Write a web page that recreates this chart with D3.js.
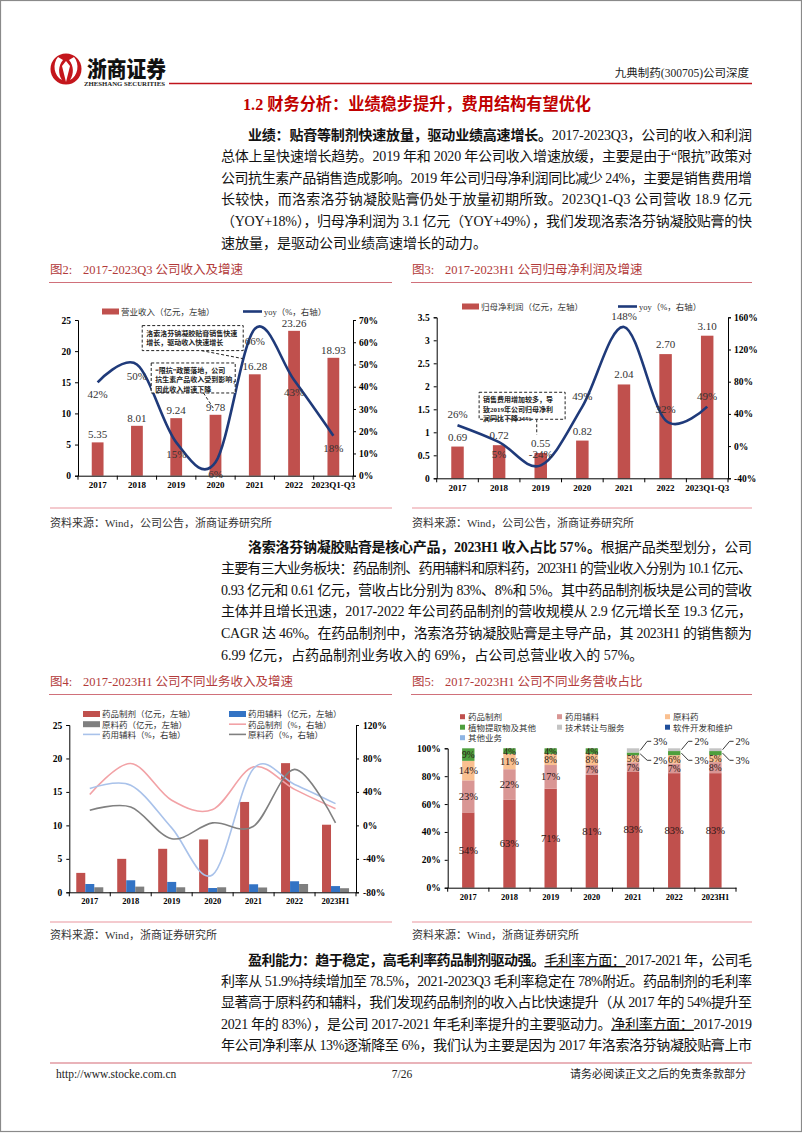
<!DOCTYPE html>
<html><head><meta charset="utf-8">
<script src="https://cdn.jsdelivr.net/npm/d3@7"></script>
<style>
body{margin:0;background:#fff;}
svg text{font-family:"Liberation Serif","Times New Roman","Noto Sans CJK SC",serif;}
</style></head><body>
<svg id="page" width="802" height="1133"></svg>
<script>
// ---------------- DATA ----------------
const years1 = ["2017","2018","2019","2020","2021","2022","2023Q1-Q3"];
const revenue = [5.35,8.01,9.24,9.78,16.28,23.26,18.93];
const revenueYoy = [42,50,15,6,66,43,18];
const revTicksL = [0,5,10,15,20,25];
const revTicksR = [0,10,20,30,40,50,60,70];

const netProfit = [0.69,0.72,0.55,0.82,2.04,2.70,3.10];
const netProfitYoy = [26,5,-24,49,148,32,49];
const npTicksL = [0,0.5,1,1.5,2,2.5,3,3.5];
const npTicksR = [-40,0,40,80,120,160];
const npYoySide = ["up","down","up","up","up","up","up"];

const years3 = ["2017","2018","2019","2020","2021","2022","2023H1"];
const segPharma = [2.9,5.0,6.5,7.9,13.5,19.3,10.1];
const segExcip = [1.24,1.8,1.55,0.64,1.2,1.65,0.93];
const segApi = [0.75,0.85,0.75,0.75,0.72,1.24,0.61];
const segPharmaYoy = [37,74,30,19,70,43,20];
const segExcipYoy = [44,48,-3,-59,68,49,26];
const segApiYoy = [18,22,-16,3,-1,67,3];
const segTicksL = [0,5,10,15,20,25];
const segTicksR = [-80,-40,0,40,80,120];

const shareKeys = ["药品制剂","药用辅料","原料药","植物提取物及其他","技术转让与服务","软件开发和维护","其他业务"];
const sharePharma = [54,63,71,81,83,83,83];
const shareExcip = [23,22,17,7,7,7,8];
const shareApi = [14,11,8,8,5,6,5];
const sharePlant = [9,4,4,4,2,3,3];
const shareTech = [0,0,0,0,3,2,2];
const shareSoft = [0,0,0,0,0,0,0];
const shareOther = [0,0,0,0,0,0,0];
const shareTicks = [0,0.2,0.4,0.6,0.8,1];

// ---------------- TEXT ----------------
const para1 = [
 "**业绩：贴膏等制剂快速放量，驱动业绩高速增长。**2017-2023Q3，公司的收入和利润",
 "总体上呈快速增长趋势。2019 年和 2020 年公司收入增速放缓，主要是由于“限抗”政策对",
 "公司抗生素产品销售造成影响。2019 年公司归母净利润同比减少 24%，主要是销售费用增",
 "长较快，而洛索洛芬钠凝胶贴膏仍处于放量初期所致。2023Q1-Q3 公司营收 18.9 亿元",
 "（YOY+18%），归母净利润为 3.1 亿元（YOY+49%），我们发现洛索洛芬钠凝胶贴膏的快",
 "速放量，是驱动公司业绩高速增长的动力。"
];
const para2 = [
 "**洛索洛芬钠凝胶贴膏是核心产品，2023H1 收入占比 57%。**根据产品类型划分，公司",
 "主要有三大业务板块：药品制剂、药用辅料和原料药，2023H1 的营业收入分别为 10.1 亿元、",
 "0.93 亿元和 0.61 亿元，营收占比分别为 83%、8%和 5%。其中药品制剂板块是公司的营收",
 "主体并且增长迅速，2017-2022 年公司药品制剂的营收规模从 2.9 亿元增长至 19.3 亿元，",
 "CAGR 达 46%。在药品制剂中，洛索洛芬钠凝胶贴膏是主导产品，其 2023H1 的销售额为",
 "6.99 亿元，占药品制剂业务收入的 69%，占公司总营业收入的 57%。"
];
const para3 = [
 "**盈利能力：趋于稳定，高毛利率药品制剂驱动强。**__毛利率方面：__2017-2021 年，公司毛",
 "利率从 51.9%持续增加至 78.5%，2021-2023Q3 毛利率稳定在 78%附近。药品制剂的毛利率",
 "显著高于原料药和辅料，我们发现药品制剂的收入占比快速提升（从 2017 年的 54%提升至",
 "2021 年的 83%），是公司 2017-2021 年毛利率提升的主要驱动力。__净利率方面：__2017-2019",
 "年公司净利率从 13%逐渐降至 6%，我们认为主要是因为 2017 年洛索洛芬钠凝胶贴膏上市"
];

// ---------------- DRAW ----------------
const svg = d3.select("#page");
const SERIF = '"Liberation Serif","Times New Roman","Noto Sans CJK SC",serif';
const CJK = '"Noto Sans CJK SC","Liberation Serif",sans-serif';
const RED = "#C0504D";
const NAVY = "#1F3A7A";

svg.append("rect").attr("x",0.5).attr("y",0.5).attr("width",801).attr("height",1131)
  .attr("fill","none").attr("stroke","#8a8a8a").attr("stroke-width",1.2);

// header
const logo = svg.append("g");
logo.append("circle").attr("cx",66).attr("cy",69).attr("r",15.5).attr("fill","#C4161C");
logo.append("path").attr("d","M58,57 C52,64 54,76 62,80 C58,74 58,66 63,60 Z M74,57 C80,64 78,76 70,80 C74,74 74,66 69,60 Z M62,66 L66,61 L70,66 L66,82 Z")
  .attr("fill","#fff");
svg.append("text").attr("x",87).attr("y",77).attr("font-family",CJK).attr("font-weight",900)
  .attr("font-size",22).attr("textLength",79).attr("lengthAdjust","spacingAndGlyphs").attr("fill","#111").text("浙商证券");
svg.append("text").attr("x",84).attr("y",85.5).attr("font-family",SERIF).attr("font-weight","bold")
  .attr("font-size",5.6).attr("textLength",81).attr("lengthAdjust","spacingAndGlyphs").attr("fill","#222").text("ZHESHANG SECURITIES");
svg.append("line").attr("x1",169).attr("x2",752).attr("y1",83.5).attr("y2",83.5).attr("stroke","#C0141C").attr("stroke-width",1.4);
svg.append("text").attr("x",749).attr("y",77).attr("text-anchor","end").attr("font-size",11.5).attr("fill","#222")
  .text("九典制药(300705)公司深度");

svg.append("text").attr("x",243).attr("y",110).attr("font-size",16.5).attr("font-weight","bold").attr("fill","#C00000")
  .attr("textLength",348).attr("lengthAdjust","spacingAndGlyphs").text("1.2 财务分析：业绩稳步提升，费用结构有望优化");

function richText(str, x, y, len){
  const t = svg.append("text").attr("x",x).attr("y",y).attr("font-size",14).attr("fill","#111");
  str.split(/(\*\*[^*]+\*\*|__[^_]+__)/).filter(s=>s).forEach(p=>{
    const ts = t.append("tspan");
    if(p.startsWith("**")) ts.text(p.slice(2,-2)).attr("font-weight","bold");
    else if(p.startsWith("__")) ts.text(p.slice(2,-2)).style("text-decoration","underline");
    else ts.text(p);
  });
  if(len) t.attr("textLength",len).attr("lengthAdjust","spacing");
}
function paragraph(lines, yBase, lh, lastFull){
  const L=221, R=752, IND=248;
  lines.forEach((s,i)=>{
    const x = i===0 ? IND : L;
    const full = i < lines.length-1 || lastFull;
    richText(s, x, yBase + i*lh, full ? R-x : null);
  });
}
paragraph(para1, 139.5, 21.6, false);
paragraph(para2, 551.5, 21.6, false);
paragraph(para3, 965, 21.2, true);

// figure titles, rules, sources
function figTitle(x, y, num, txt, x2){
  const t = svg.append("text").attr("x",x).attr("y",y).attr("font-size",12.5).attr("fill","#B23A3A");
  t.append("tspan").text("图"+num+":");
  t.append("tspan").attr("x",x+33).text(txt);
  svg.append("line").attr("x1",x-1).attr("x2",x2).attr("y1",y+8.5).attr("y2",y+8.5).attr("stroke","#D0707A").attr("stroke-width",1.2);
}
figTitle(50,274,"2","2017-2023Q3 公司收入及增速",392);
figTitle(412,274,"3","2017-2023H1 公司归母净利润及增速",752);
figTitle(50,686,"4","2017-2023H1 公司不同业务收入及增速",392);
figTitle(412,686,"5","2017-2023H1 公司不同业务营收占比",752);
function srcRule(x1,x2,y){svg.append("line").attr("x1",x1).attr("x2",x2).attr("y1",y).attr("y2",y).attr("stroke","#F0B8BE").attr("stroke-width",1.5);}
srcRule(50,392,508); srcRule(412,752,508);
srcRule(50,392,922); srcRule(412,752,922);
function source(x,y,txt){svg.append("text").attr("x",x).attr("y",y).attr("font-size",11).attr("fill","#333").text(txt);}
source(50,526.5,"资料来源：Wind，公司公告，浙商证券研究所");
source(412,526.5,"资料来源：Wind，公司公告，浙商证券研究所");
source(50,939,"资料来源：Wind，浙商证券研究所");
source(412,939,"资料来源：Wind，浙商证券研究所");

// footer
svg.append("line").attr("x1",50).attr("x2",752).attr("y1",1063).attr("y2",1063).attr("stroke","#E29AA2").attr("stroke-width",1.4);
svg.append("text").attr("x",56).attr("y",1078).attr("font-size",11.5).attr("fill","#222").text("http://www.stocke.com.cn");
svg.append("text").attr("x",402).attr("y",1078).attr("text-anchor","middle").attr("font-size",11.5).attr("fill","#222").text("7/26");
svg.append("text").attr("x",746).attr("y",1078).attr("text-anchor","end").attr("font-size",11).attr("fill","#222").text("请务必阅读正文之后的免责条款部分");

// ---------- axis helpers ----------
function styleAxis(g, fs){
  g.select(".domain").attr("stroke","#000").attr("stroke-width",1);
  g.selectAll(".tick line").attr("stroke","#000");
  g.selectAll("text").attr("font-family",SERIF).attr("font-weight","bold").attr("font-size",fs).attr("fill","#000");
}
function xAxis(g0, x, y, fs){
  const g = g0.append("g").attr("transform",`translate(0,${y})`)
    .call(d3.axisBottom(x).tickSize(0).tickPadding(6).tickSizeOuter(0));
  styleAxis(g, fs);
  const bounds = x.domain().map(d=>x(d)).concat([x.range()[1]]);
  g.selectAll(".bt").data(bounds).join("line").attr("x1",d=>d).attr("x2",d=>d).attr("y1",0).attr("y2",4).attr("stroke","#000");
}
const smooth = d3.curveCardinal.tension(0);
const pct = d=>d+"%";

// ---------- combo charts (fig 2 & 3) ----------
function combo(o){
  const g = svg.append("g");
  const x = d3.scaleBand().domain(o.cats).range([o.x0,o.x1]);
  const yL = d3.scaleLinear().domain([o.lTicks[0], o.lTicks[o.lTicks.length-1]]).range([o.yBot,o.yTop]);
  const yR = d3.scaleLinear().domain([o.rTicks[0], o.rTicks[o.rTicks.length-1]]).range([o.yBot,o.yTop]);
  const bw = x.bandwidth()*0.3;
  const cx = d=>x(d)+x.bandwidth()/2;
  g.selectAll(".bar").data(o.cats).join("rect")
    .attr("x",(d)=>cx(d)-bw/2).attr("width",bw)
    .attr("y",(d,i)=>yL(o.bars[i])).attr("height",(d,i)=>yL(0)-yL(o.bars[i])).attr("fill",RED);
  g.selectAll(".bl").data(o.cats).join("text").attr("x",d=>cx(d)).attr("y",(d,i)=>yL(o.bars[i])-o.valGap)
    .attr("text-anchor","middle").attr("font-size",11).attr("fill","#333").text((d,i)=>o.bars[i].toFixed(2));
  const gl = g.append("g").attr("transform",`translate(${o.x0},0)`)
    .call(d3.axisLeft(yL).tickValues(o.lTicks).tickSize(3).tickPadding(4).tickFormat(o.lFmt));
  styleAxis(gl, 9.5);
  const gr = g.append("g").attr("transform",`translate(${o.x1},0)`)
    .call(d3.axisRight(yR).tickValues(o.rTicks).tickSize(3).tickPadding(3).tickFormat(pct));
  styleAxis(gr, 9.5);
  xAxis(g, x, o.yBot, 9);
  const line = d3.line().x((d,i)=>cx(o.cats[i])).y(d=>yR(d)).curve(smooth);
  g.append("path").datum(o.yoy).attr("d",line).attr("fill","none").attr("stroke",NAVY).attr("stroke-width",2.6);
  g.selectAll(".yl").data(o.yoy).join("text").attr("x",(d,i)=>cx(o.cats[i]))
    .attr("y",(d,i)=>yR(d) + (o.side[i]==="down"?16:-7))
    .attr("text-anchor","middle").attr("font-size",11).attr("fill","#333").text(pct);
  // legend
  const lg = g.append("g");
  lg.append("rect").attr("x",o.legX).attr("y",o.legY-3).attr("width",17).attr("height",6).attr("fill",RED);
  lg.append("text").attr("x",o.legX+19).attr("y",o.legY+3.2).attr("font-family",CJK).attr("font-size",8.5).attr("fill","#333").text(o.barName);
  lg.append("line").attr("x1",o.legX2).attr("x2",o.legX2+19).attr("y1",o.legY).attr("y2",o.legY).attr("stroke",NAVY).attr("stroke-width",2.6);
  lg.append("text").attr("x",o.legX2+21).attr("y",o.legY+3.2).attr("font-family",CJK).attr("font-size",8.5).attr("fill","#333").text("yoy（%，右轴）");
  return {g,x,yL,yR,cx};
}
function noteBox(g, x, y, w, h, lines, leader){
  g.append("line").attr("x1",leader[0]).attr("y1",leader[1]).attr("x2",leader[2]).attr("y2",leader[3])
    .attr("stroke","#222").attr("stroke-width",1).attr("stroke-dasharray","3,2");
  g.append("rect").attr("x",x).attr("y",y).attr("width",w).attr("height",h).attr("fill","#fff")
    .attr("stroke","#222").attr("stroke-width",1).attr("stroke-dasharray","3,2");
  lines.forEach((s,i)=>g.append("text").attr("x",x+4).attr("y",y+10+i*9.5).attr("font-family",CJK)
    .attr("font-weight","bold").attr("font-size",7).attr("fill","#222").text(s));
}

const c1 = combo({cats:years1,bars:revenue,yoy:revenueYoy,x0:78,x1:353,yTop:320,yBot:475.7,
  lTicks:revTicksL,rTicks:revTicksR,lFmt:d=>d,side:revenueYoy.map(()=> "down"),valGap:4,
  legX:102,legX2:243,legY:311.5,barName:"营业收入（亿元，左轴）"});
noteBox(c1.g, c1.cx("2019")-34, c1.yL(24.1), 101, 25, ["洛索洛芬钠凝胶贴膏销售快速","增长，驱动收入快速增长"],
  [c1.cx("2020")-14, c1.yL(24.1)+25, c1.cx("2021")-12, c1.yL(18.8)]);
noteBox(c1.g, c1.cx("2019")-25, c1.yL(18.1), 84, 30, ["“限抗”政策落地，公司","抗生素产品收入受到影响，","因此收入增速下降"],
  [c1.cx("2020")-12, c1.yL(18.1)+30, c1.cx("2020")-2, c1.yL(10.8)]);

const c2 = combo({cats:years1,bars:netProfit,yoy:netProfitYoy,x0:436.7,x1:728,yTop:317.3,yBot:478.3,
  lTicks:npTicksL,rTicks:npTicksR,lFmt:d=>d,side:npYoySide,valGap:6,
  legX:462,legX2:618,legY:306.5,barName:"归母净利润（亿元，左轴）"});
noteBox(c2.g, c2.cx("2018")-20, c2.yL(1.87), 86, 27, ["销售费用增加较多，导","致2019年公司归母净利","润同比下降24%"],
  [c2.cx("2019")-4, c2.yL(1.87)+27, c2.cx("2019")-4, c2.yL(0.95)]);

// ---------- fig 4 grouped bars + lines ----------
{
  const g = svg.append("g");
  const x = d3.scaleBand().domain(years3).range([69.3,356]);
  const yL = d3.scaleLinear().domain([0,25]).range([892.3,725]);
  const yR = d3.scaleLinear().domain([-80,120]).range([892.3,725]);
  const cx = d=>x(d)+x.bandwidth()/2;
  const bw = x.bandwidth()*0.22;
  const barSeries = [{v:segPharma,c:RED,o:-1.5},{v:segExcip,c:"#3373C4",o:-0.5},{v:segApi,c:"#7F7F7F",o:0.5}];
  barSeries.forEach(s=>{
    g.selectAll(null).data(years3).join("rect").attr("x",d=>cx(d)+s.o*bw).attr("width",bw)
      .attr("y",(d,i)=>yL(s.v[i])).attr("height",(d,i)=>yL(0)-yL(s.v[i])).attr("fill",s.c);
  });
  const lineSeries = [{v:segPharmaYoy,c:"#F2A2A6"},{v:segExcipYoy,c:"#A9C2EA"},{v:segApiYoy,c:"#808080"}];
  lineSeries.forEach(s=>{
    const line = d3.line().x((d,i)=>cx(years3[i])).y(d=>yR(d)).curve(smooth);
    g.append("path").datum(s.v).attr("d",line).attr("fill","none").attr("stroke",s.c).attr("stroke-width",1.6);
  });
  const gl = g.append("g").attr("transform","translate(69.3,0)").call(d3.axisLeft(yL).tickValues(segTicksL).tickSize(3).tickPadding(4));
  styleAxis(gl,9.5);
  const gr = g.append("g").attr("transform","translate(356,0)").call(d3.axisRight(yR).tickValues(segTicksR).tickSize(3).tickPadding(4).tickFormat(pct));
  styleAxis(gr,9.5);
  xAxis(g, x, 892.3, 8.5);
  const leg = [
    {t:"药品制剂（亿元，左轴）",c:RED,k:"bar"},{t:"药用辅料（亿元，左轴）",c:"#3373C4",k:"bar"},
    {t:"原料药（亿元，左轴）",c:"#7F7F7F",k:"bar"},{t:"药品制剂（%，右轴）",c:"#F2A2A6",k:"line"},
    {t:"药用辅料（%，右轴）",c:"#A9C2EA",k:"line"},{t:"原料药（%，右轴）",c:"#808080",k:"line"}];
  leg.forEach((d,i)=>{
    const lx = i%2===0 ? 83 : 229, ly = 714 + Math.floor(i/2)*10.2;
    if(d.k==="bar") g.append("rect").attr("x",lx).attr("y",ly-3).attr("width",17).attr("height",6).attr("fill",d.c);
    else g.append("line").attr("x1",lx).attr("x2",lx+17).attr("y1",ly).attr("y2",ly).attr("stroke",d.c).attr("stroke-width",1.6);
    g.append("text").attr("x",lx+19).attr("y",ly+3.3).attr("font-family",CJK).attr("font-size",8.5).attr("fill","#333").text(d.t);
  });
}

// ---------- fig 5 stacked 100% ----------
{
  const g = svg.append("g");
  const shareArrays = [sharePharma,shareExcip,shareApi,sharePlant,shareTech,shareSoft,shareOther];
  const shareColors = [RED,"#D99694","#FAC090","#4E9F3D","#C4C4C4","#1F4E9A","#8EB4E3"];
  const rows = years3.map((y,i)=>{const r={year:y}; shareKeys.forEach((k,j)=>r[k]=shareArrays[j][i]); return r;});
  const stack = d3.stack().keys(shareKeys).offset(d3.stackOffsetExpand)(rows);
  const x = d3.scaleBand().domain(years3).range([447.7,736]);
  const y = d3.scaleLinear().domain([0,1]).range([887.7,748.3]);
  const bw = x.bandwidth()*0.3;
  const cx = d=>x(d)+x.bandwidth()/2;
  stack.forEach((layer,j)=>{
    g.selectAll(null).data(layer).join("rect").attr("x",d=>cx(d.data.year)-bw/2).attr("width",bw)
      .attr("y",d=>y(d[1])).attr("height",d=>y(d[0])-y(d[1])).attr("fill",shareColors[j]);
  });
  stack.forEach((layer,j)=>{
    layer.forEach((d,i)=>{
      const v = shareArrays[j][i];
      if(!v) return;
      const mid = (y(d[0])+y(d[1]))/2;
      if(v>=4){
        g.append("text").attr("x",cx(d.data.year)).attr("y",mid+3.5).attr("text-anchor","middle")
          .attr("font-size",v<10?9.5:10.5).attr("fill","#2a1515").text(v+"%");
      } else {
        const up = shareKeys[j]==="技术转让与服务";
        const rx = cx(d.data.year)+bw/2;
        const ly = up ? y(1)-3 : y(1)+16;
        g.append("path").attr("d",`M${rx+1},${mid} L${rx+8},${ly-4} L${rx+12},${ly-4}`)
          .attr("fill","none").attr("stroke","#222").attr("stroke-width",0.9);
        g.append("text").attr("x",rx+14).attr("y",ly).attr("font-size",10.5).attr("fill","#222").text(v+"%");
      }
    });
  });
  const gl = g.append("g").attr("transform","translate(447.7,0)").call(d3.axisLeft(y).tickValues(shareTicks).tickSize(3).tickPadding(4).tickFormat(d=>Math.round(d*100)+"%"));
  styleAxis(gl,9.5);
  xAxis(g, x, 887.7, 8.5);
  shareKeys.forEach((k,i)=>{
    const lx = [460,557,665][i%3], ly = 716.7 + Math.floor(i/3)*10.5;
    g.append("rect").attr("x",lx).attr("y",ly-2.5).attr("width",5).attr("height",5).attr("fill",shareColors[i]);
    g.append("text").attr("x",lx+8).attr("y",ly+3.3).attr("font-family",CJK).attr("font-size",8.5).attr("fill","#333").text(k);
  });
}
</script>
</body></html>
